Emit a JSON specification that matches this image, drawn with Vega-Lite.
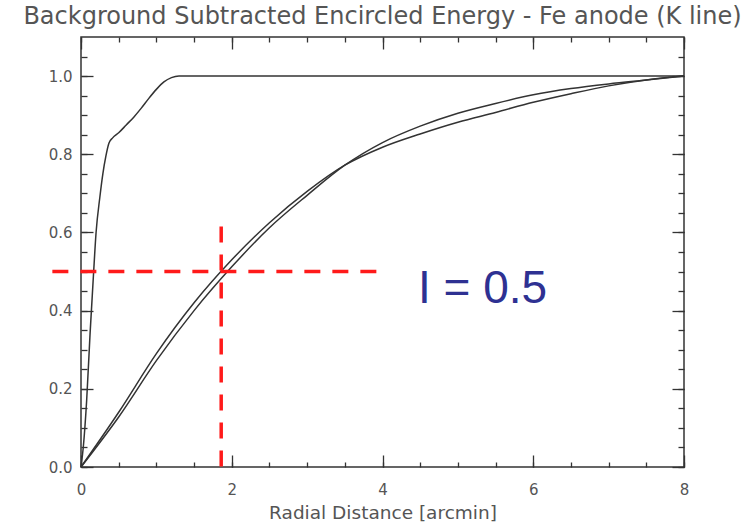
{
  "$schema": "https://vega.github.io/schema/vega-lite/v6.json",
  "width": 603,
  "height": 430,
  "autosize": "none",
  "padding": {"left": 81, "top": 37, "right": 67, "bottom": 58},
  "background": "white",
  "config": {
    "view": {"stroke": "#333333", "strokeWidth": 1.5},
    "font": "DejaVu Sans",
    "axis": {
      "domain": false,
      "grid": false,
      "labelFlush": false,
      "tickColor": "#333333",
      "tickWidth": 1.3,
      "labelFont": "DejaVu Sans",
      "labelFontSize": 15,
      "labelColor": "#555555",
      "titleFont": "DejaVu Sans",
      "titleFontSize": 18.5,
      "titleFontWeight": "normal",
      "titleColor": "#555555"
    }
  },
  "title": {
    "text": "Background Subtracted Encircled Energy - Fe anode (K line)",
    "font": "DejaVu Sans",
    "fontSize": 24,
    "fontWeight": "normal",
    "color": "#555555",
    "anchor": "middle",
    "baseline": "alphabetic",
    "offset": -12
  },
  "datasets": {
    "curves": [
      {"curve": "S", "r": 0, "ee": 0},
      {"curve": "S", "r": 0.03, "ee": 0.05},
      {"curve": "S", "r": 0.075, "ee": 0.17},
      {"curve": "S", "r": 0.12, "ee": 0.34},
      {"curve": "S", "r": 0.165, "ee": 0.49},
      {"curve": "S", "r": 0.2, "ee": 0.6},
      {"curve": "S", "r": 0.25, "ee": 0.69},
      {"curve": "S", "r": 0.29, "ee": 0.75},
      {"curve": "S", "r": 0.33, "ee": 0.795},
      {"curve": "S", "r": 0.37, "ee": 0.828},
      {"curve": "S", "r": 0.42, "ee": 0.842},
      {"curve": "S", "r": 0.5, "ee": 0.855},
      {"curve": "S", "r": 0.6, "ee": 0.875},
      {"curve": "S", "r": 0.7, "ee": 0.895},
      {"curve": "S", "r": 0.8, "ee": 0.918},
      {"curve": "S", "r": 0.9, "ee": 0.943},
      {"curve": "S", "r": 1.0, "ee": 0.966},
      {"curve": "S", "r": 1.1, "ee": 0.985},
      {"curve": "S", "r": 1.2, "ee": 0.996},
      {"curve": "S", "r": 1.3, "ee": 1.0},
      {"curve": "S", "r": 1.5, "ee": 1.0},
      {"curve": "S", "r": 8, "ee": 1.0},
      {"curve": "A", "r": 0, "ee": 0},
      {"curve": "A", "r": 0.5, "ee": 0.14},
      {"curve": "A", "r": 1.0, "ee": 0.29},
      {"curve": "A", "r": 1.5, "ee": 0.42},
      {"curve": "A", "r": 2.0, "ee": 0.53},
      {"curve": "A", "r": 2.5, "ee": 0.625},
      {"curve": "A", "r": 3.0, "ee": 0.705},
      {"curve": "A", "r": 3.5, "ee": 0.772},
      {"curve": "A", "r": 4.0, "ee": 0.818},
      {"curve": "A", "r": 4.5, "ee": 0.852},
      {"curve": "A", "r": 5.0, "ee": 0.882},
      {"curve": "A", "r": 5.5, "ee": 0.907},
      {"curve": "A", "r": 6.0, "ee": 0.933},
      {"curve": "A", "r": 6.5, "ee": 0.955},
      {"curve": "A", "r": 7.0, "ee": 0.975},
      {"curve": "A", "r": 7.5, "ee": 0.99},
      {"curve": "A", "r": 8.0, "ee": 1.0},
      {"curve": "B", "r": 0, "ee": 0},
      {"curve": "B", "r": 0.5, "ee": 0.128},
      {"curve": "B", "r": 1.0, "ee": 0.272},
      {"curve": "B", "r": 1.5, "ee": 0.4},
      {"curve": "B", "r": 2.0, "ee": 0.512},
      {"curve": "B", "r": 2.5, "ee": 0.612},
      {"curve": "B", "r": 3.0, "ee": 0.695},
      {"curve": "B", "r": 3.5, "ee": 0.772},
      {"curve": "B", "r": 4.0, "ee": 0.83},
      {"curve": "B", "r": 4.5, "ee": 0.872},
      {"curve": "B", "r": 5.0, "ee": 0.905},
      {"curve": "B", "r": 5.5, "ee": 0.93},
      {"curve": "B", "r": 6.0, "ee": 0.952},
      {"curve": "B", "r": 6.5, "ee": 0.968},
      {"curve": "B", "r": 7.0, "ee": 0.98},
      {"curve": "B", "r": 7.5, "ee": 0.99},
      {"curve": "B", "r": 8.0, "ee": 1.0}
    ],
    "hline": [{"r": -0.38, "r2": 3.94, "ee": 0.5}],
    "vline": [{"r": 1.86, "ee": 0, "ee2": 0.615}],
    "note": [{"r": 4.47, "ee": 0.42, "label": "I = 0.5"}]
  },
  "layer": [
    {
      "data": {"name": "curves"},
      "mark": {"type": "line", "interpolate": "monotone", "color": "#333333", "strokeWidth": 1.5},
      "encoding": {
        "x": {
          "field": "r", "type": "quantitative",
          "scale": {"domain": [0, 8], "nice": false, "zero": false},
          "axis": {"orient": "bottom", "values": [0, 2, 4, 6, 8], "format": "d", "tickSize": -12, "labelPadding": 27, "title": "Radial Distance [arcmin]", "titlePadding": 6}
        },
        "y": {
          "field": "ee", "type": "quantitative",
          "scale": {"domain": [0, 1.1], "nice": false, "zero": false},
          "axis": {"orient": "left", "values": [0, 0.2, 0.4, 0.6, 0.8, 1.0], "format": ".1f", "tickSize": -12, "labelPadding": 21, "title": null}
        },
        "detail": {"field": "curve"}
      }
    },
    {
      "data": {"name": "hline"},
      "mark": {"type": "rule", "color": "#ff1a1a", "strokeWidth": 3.5, "strokeDash": [16, 12], "clip": false},
      "encoding": {
        "x": {
          "field": "r", "type": "quantitative",
          "scale": {"domain": [0, 8], "nice": false, "zero": false},
          "axis": {"orient": "bottom", "values": [0, 0.5, 1, 1.5, 2, 2.5, 3, 3.5, 4, 4.5, 5, 5.5, 6, 6.5, 7, 7.5, 8], "labels": false, "tickSize": -5, "title": null}
        },
        "x2": {"field": "r2"},
        "y": {
          "field": "ee", "type": "quantitative",
          "scale": {"domain": [0, 1.1], "nice": false, "zero": false},
          "axis": {"orient": "left", "values": [0, 0.05, 0.1, 0.15, 0.2, 0.25, 0.3, 0.35, 0.4, 0.45, 0.5, 0.55, 0.6, 0.65, 0.7, 0.75, 0.8, 0.85, 0.9, 0.95, 1.0, 1.05], "labels": false, "tickSize": -6, "title": null}
        }
      }
    },
    {
      "data": {"name": "vline"},
      "mark": {"type": "rule", "color": "#ff1a1a", "strokeWidth": 3.5, "strokeDash": [16, 12]},
      "encoding": {
        "x": {
          "field": "r", "type": "quantitative",
          "scale": {"domain": [0, 8], "nice": false, "zero": false},
          "axis": {"orient": "top", "values": [0, 2, 4, 6, 8], "labels": false, "tickSize": -12, "title": null}
        },
        "y": {
          "field": "ee2", "type": "quantitative",
          "scale": {"domain": [0, 1.1], "nice": false, "zero": false},
          "axis": {"orient": "right", "values": [0, 0.2, 0.4, 0.6, 0.8, 1.0], "labels": false, "tickSize": -12, "title": null}
        },
        "y2": {"field": "ee"}
      }
    },
    {
      "data": {"name": "note"},
      "mark": {"type": "text", "font": "Liberation Sans", "fontSize": 46, "color": "#2e3192", "align": "left", "baseline": "alphabetic"},
      "encoding": {
        "x": {
          "field": "r", "type": "quantitative",
          "scale": {"domain": [0, 8], "nice": false, "zero": false},
          "axis": {"orient": "top", "values": [0, 0.5, 1, 1.5, 2, 2.5, 3, 3.5, 4, 4.5, 5, 5.5, 6, 6.5, 7, 7.5, 8], "labels": false, "tickSize": -5, "title": null}
        },
        "y": {
          "field": "ee", "type": "quantitative",
          "scale": {"domain": [0, 1.1], "nice": false, "zero": false},
          "axis": {"orient": "right", "values": [0, 0.05, 0.1, 0.15, 0.2, 0.25, 0.3, 0.35, 0.4, 0.45, 0.5, 0.55, 0.6, 0.65, 0.7, 0.75, 0.8, 0.85, 0.9, 0.95, 1.0, 1.05], "labels": false, "tickSize": -6, "title": null}
        },
        "text": {"field": "label"}
      }
    }
  ],
  "resolve": {"axis": {"x": "independent", "y": "independent"}}
}
